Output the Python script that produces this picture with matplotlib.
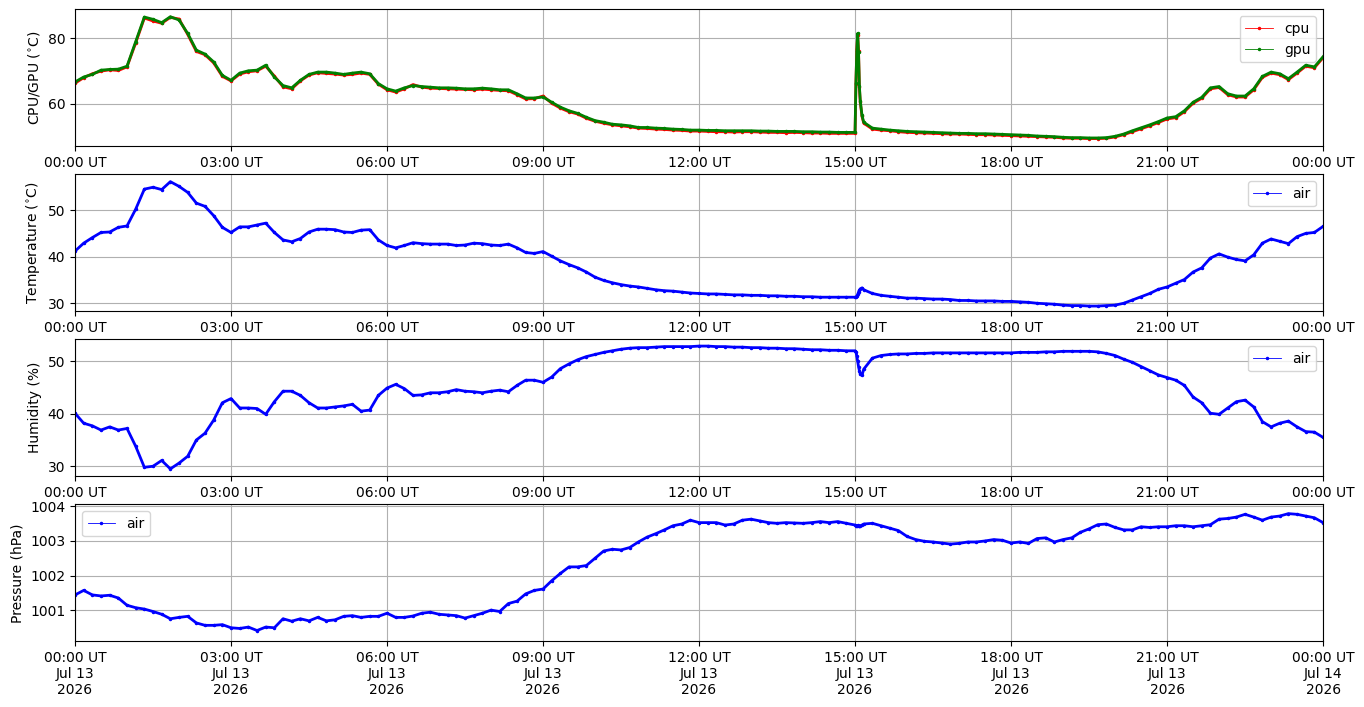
import matplotlib
matplotlib.use("Agg")
import matplotlib.pyplot as plt
import matplotlib.dates as mdates
from matplotlib.lines import Line2D
import pandas as pd

# sample times, minutes after 2026-07-13 00:00 UT (denser around the 15:00 event)
minutes = list(range(0, 900, 10)) + [900, 901, 902, 903, 904, 905, 906, 908, 910] + list(range(920, 1441, 10))

cpu_temp = [
    66.3, 68.0, 69.2, 70.0, 70.4, 70.2,
    71.3, 78.6, 86.2, 85.3, 84.6, 86.4,
    85.9, 81.2, 76.0, 75.0, 72.5, 68.4,
    67.0, 69.1, 69.8, 70.1, 71.5, 68.5,
    65.2, 64.6, 67.0, 68.8, 69.5, 69.3,
    69.1, 68.8, 69.0, 69.4, 69.0, 66.0,
    64.3, 63.6, 64.6, 65.9, 65.1, 64.8,
    64.7, 64.6, 64.5, 64.4, 64.3, 64.5,
    64.3, 64.1, 64.0, 62.8, 61.5, 61.6,
    62.4, 60.2, 58.7, 57.6, 56.9, 55.6,
    54.7, 54.1, 53.6, 53.3, 53.0, 52.6,
    52.5, 52.3, 52.2, 52.0, 51.9, 51.7,
    51.7, 51.6, 51.5, 51.5, 51.4, 51.5,
    51.5, 51.4, 51.3, 51.3, 51.2, 51.3,
    51.2, 51.1, 51.1, 51.0, 51.0, 51.0,
    51.0, 66.0, 76.6, 80.9, 76.2, 65.0, 60.6, 56.2, 54.1,
    52.3, 52.0, 51.8, 51.5,
    51.3, 51.2, 51.1, 51.0, 50.9, 50.8,
    50.8, 50.7, 50.6, 50.6, 50.5, 50.4,
    50.3, 50.2, 50.1, 50.0, 49.9, 49.8,
    49.6, 49.5, 49.5, 49.4, 49.4, 49.5,
    49.9, 50.6, 51.5, 52.4, 53.3, 54.3,
    55.4, 55.8, 57.6, 60.2, 61.7, 64.6,
    65.0, 62.8, 62.1, 62.1, 64.3, 68.1,
    69.4, 68.9, 67.4, 69.4, 71.5, 71.0,
    74.1]

gpu_temp = [
    66.7, 68.2, 69.0, 70.3, 70.5, 70.6,
    71.5, 79.0, 86.5, 85.8, 84.8, 86.6,
    85.6, 81.5, 76.4, 75.2, 72.8, 68.7,
    67.2, 69.4, 70.1, 70.3, 71.8, 68.2,
    65.6, 64.9, 67.2, 69.0, 69.7, 69.7,
    69.4, 69.0, 69.4, 69.7, 69.2, 66.2,
    64.6, 63.9, 64.9, 65.6, 65.3, 65.1,
    64.9, 64.9, 64.8, 64.6, 64.6, 64.8,
    64.6, 64.3, 64.3, 63.1, 61.8, 61.8,
    62.1, 60.5, 59.0, 57.9, 57.1, 55.9,
    54.9, 54.4, 53.8, 53.6, 53.3, 52.8,
    52.8, 52.6, 52.5, 52.3, 52.2, 52.0,
    52.0, 51.9, 51.9, 51.8, 51.8, 51.8,
    51.8, 51.7, 51.7, 51.6, 51.6, 51.6,
    51.5, 51.5, 51.4, 51.4, 51.3, 51.3,
    51.3, 66.5, 76.2, 81.5, 75.8, 65.5, 61.0, 56.5, 54.4,
    52.6, 52.3, 52.0, 51.8,
    51.6, 51.5, 51.4, 51.3, 51.2, 51.1,
    51.0, 51.0, 50.9, 50.9, 50.8, 50.7,
    50.6, 50.5, 50.4, 50.2, 50.1, 50.0,
    49.8, 49.7, 49.7, 49.6, 49.6, 49.7,
    50.1, 50.8, 51.8, 52.7, 53.6, 54.6,
    55.7, 56.1, 57.9, 60.5, 62.0, 64.9,
    65.3, 63.1, 62.4, 62.4, 64.6, 68.4,
    69.7, 69.2, 67.7, 69.7, 71.8, 71.3,
    74.4]

air_temp = [
    41.2, 42.9, 44.1, 45.2, 45.3, 46.3,
    46.6, 50.2, 54.5, 54.9, 54.4, 56.1,
    55.1, 53.8, 51.5, 50.8, 48.8, 46.3,
    45.2, 46.4, 46.4, 46.8, 47.2, 45.2,
    43.6, 43.2, 43.9, 45.3, 45.9, 45.9,
    45.8, 45.3, 45.2, 45.7, 45.8, 43.6,
    42.4, 41.9, 42.4, 43.0, 42.8, 42.7,
    42.7, 42.7, 42.4, 42.5, 42.9, 42.8,
    42.5, 42.4, 42.7, 41.9, 40.9, 40.7,
    41.1, 40.1, 39.1, 38.3, 37.6, 36.7,
    35.6, 34.9, 34.4, 34.0, 33.7, 33.5,
    33.2, 32.9, 32.7, 32.6, 32.4, 32.2,
    32.1, 32.0, 32.0, 31.9, 31.8, 31.8,
    31.7, 31.7, 31.6, 31.6, 31.5, 31.5,
    31.4, 31.4, 31.3, 31.3, 31.3, 31.3,
    31.3, 31.3, 31.5, 31.9, 32.4, 32.8, 33.1, 33.3, 32.9,
    32.1, 31.7, 31.5, 31.3,
    31.1, 31.1, 31.0, 30.9, 30.9, 30.8,
    30.6, 30.6, 30.5, 30.5, 30.5, 30.4,
    30.4, 30.3, 30.2, 30.0, 29.9, 29.8,
    29.6, 29.5, 29.5, 29.4, 29.4, 29.5,
    29.6, 30.0, 30.7, 31.4, 32.1, 33.0,
    33.5, 34.3, 35.1, 36.7, 37.6, 39.7,
    40.6, 39.9, 39.4, 39.1, 40.4, 42.9,
    43.8, 43.3, 42.8, 44.3, 45.0, 45.2,
    46.5]

humidity = [
    40.1, 38.2, 37.7, 36.9, 37.5, 36.9,
    37.2, 33.8, 29.8, 30.0, 31.1, 29.5,
    30.6, 31.9, 35.0, 36.3, 38.8, 42.1,
    42.9, 41.1, 41.1, 41.0, 39.9, 42.3,
    44.3, 44.3, 43.5, 42.1, 41.1, 41.1,
    41.3, 41.5, 41.8, 40.5, 40.7, 43.5,
    44.9, 45.6, 44.8, 43.5, 43.6, 44.0,
    44.0, 44.2, 44.6, 44.3, 44.2, 44.0,
    44.3, 44.5, 44.2, 45.4, 46.4, 46.4,
    46.0, 47.0, 48.6, 49.5, 50.3, 50.9,
    51.3, 51.7, 52.0, 52.3, 52.5, 52.6,
    52.6, 52.7, 52.8, 52.8, 52.8, 52.8,
    52.9, 52.9, 52.8, 52.8, 52.7, 52.7,
    52.6, 52.6, 52.5, 52.5, 52.4, 52.4,
    52.3, 52.2, 52.2, 52.1, 52.1, 52.0,
    52.0, 51.8, 51.0, 50.0, 49.0, 48.2, 47.6, 47.3, 48.5,
    50.6, 51.1, 51.3, 51.4,
    51.4, 51.5, 51.5, 51.6, 51.6, 51.6,
    51.6, 51.6, 51.6, 51.6, 51.6, 51.6,
    51.6, 51.7, 51.7, 51.7, 51.8, 51.8,
    51.9, 51.9, 51.9, 51.9, 51.8, 51.5,
    51.1, 50.4, 49.8, 49.0, 48.2, 47.4,
    46.9, 46.4, 45.4, 43.2, 42.1, 40.1,
    39.9, 41.1, 42.3, 42.6, 41.3, 38.5,
    37.5, 38.2, 38.6, 37.5, 36.6, 36.5,
    35.5]

pressure = [
    1001.44, 1001.57, 1001.44, 1001.41, 1001.43, 1001.35,
    1001.14, 1001.07, 1001.03, 1000.96, 1000.88, 1000.75,
    1000.79, 1000.82, 1000.63, 1000.56, 1000.56, 1000.58,
    1000.49, 1000.47, 1000.51, 1000.41, 1000.51, 1000.49,
    1000.75, 1000.68, 1000.75, 1000.69, 1000.79, 1000.69,
    1000.72, 1000.82, 1000.84, 1000.79, 1000.82, 1000.82,
    1000.91, 1000.79, 1000.79, 1000.83, 1000.91, 1000.94,
    1000.88, 1000.86, 1000.84, 1000.77, 1000.84, 1000.91,
    1001.00, 1000.96, 1001.19, 1001.26, 1001.47, 1001.57,
    1001.61, 1001.85, 1002.06, 1002.25, 1002.25, 1002.29,
    1002.50, 1002.71, 1002.76, 1002.74, 1002.81, 1002.97,
    1003.11, 1003.21, 1003.32, 1003.44, 1003.49, 1003.60,
    1003.53, 1003.53, 1003.53, 1003.46, 1003.49, 1003.60,
    1003.63, 1003.58, 1003.53, 1003.51, 1003.53, 1003.52,
    1003.51, 1003.53, 1003.56, 1003.53, 1003.56, 1003.51,
    1003.46, 1003.44, 1003.44, 1003.45, 1003.44, 1003.43, 1003.44, 1003.46, 1003.49,
    1003.51, 1003.44, 1003.37, 1003.30,
    1003.13, 1003.04, 1002.99, 1002.97, 1002.94, 1002.91,
    1002.93, 1002.97, 1002.97, 1003.00, 1003.04, 1003.02,
    1002.94, 1002.97, 1002.93, 1003.07, 1003.09, 1002.97,
    1003.04, 1003.09, 1003.25, 1003.35, 1003.47, 1003.49,
    1003.39, 1003.32, 1003.32, 1003.41, 1003.39, 1003.41,
    1003.41, 1003.44, 1003.44, 1003.41, 1003.44, 1003.47,
    1003.63, 1003.65, 1003.69, 1003.77, 1003.69, 1003.60,
    1003.69, 1003.72, 1003.79, 1003.77, 1003.72, 1003.67,
    1003.53]

day = pd.Timestamp("2026-07-13")
t = day + pd.to_timedelta(minutes, unit="m")

fig, axs = plt.subplots(4, 1, figsize=(13.64, 7.07), dpi=100)
fig.subplots_adjust(left=0.055, right=0.97, top=0.987, bottom=0.093, hspace=0.205)

def trace(ax, y, c):
    # thick line + dots so the sparse samples read like the dense band
    ax.plot(t, y, color=c, lw=2.0, marker=".", ms=3)

def handle(c, lab):
    return Line2D([], [], color=c, lw=0.6, marker=".", ms=3, label=lab)

trace(axs[0], cpu_temp, "red")
trace(axs[0], gpu_temp, "green")
axs[0].legend(handles=[handle("red", "cpu"), handle("green", "gpu")], loc="upper right")
axs[0].set_ylabel("CPU/GPU ($^{\\circ}$C)")
axs[0].set_ylim(47.1, 88.9)

trace(axs[1], air_temp, "blue")
axs[1].legend(handles=[handle("blue", "air")], loc="upper right")
axs[1].set_ylabel("Temperature ($^{\\circ}$C)")
axs[1].set_ylim(28.3, 57.7)

trace(axs[2], humidity, "blue")
axs[2].legend(handles=[handle("blue", "air")], loc="upper right")
axs[2].set_ylabel("Humidity (%)")
axs[2].set_ylim(28.1, 54.2)

trace(axs[3], pressure, "blue")
axs[3].legend(handles=[handle("blue", "air")], loc="upper left")
axs[3].set_ylabel("Pressure (hPa)")
axs[3].set_ylim(1000.1, 1004.06)
axs[3].ticklabel_format(axis="y", useOffset=False)

for i, ax in enumerate(axs):
    ax.set_xlim(day, day + pd.Timedelta(days=1))
    ax.xaxis.set_major_locator(mdates.HourLocator(byhour=range(0, 24, 3)))
    if i < 3:
        ax.xaxis.set_major_formatter(mdates.DateFormatter("%H:%M UT"))
    else:
        ax.xaxis.set_major_formatter(mdates.DateFormatter("%H:%M UT\n%b %d\n%Y"))
    ax.grid(True)

fig.savefig("out.png")
